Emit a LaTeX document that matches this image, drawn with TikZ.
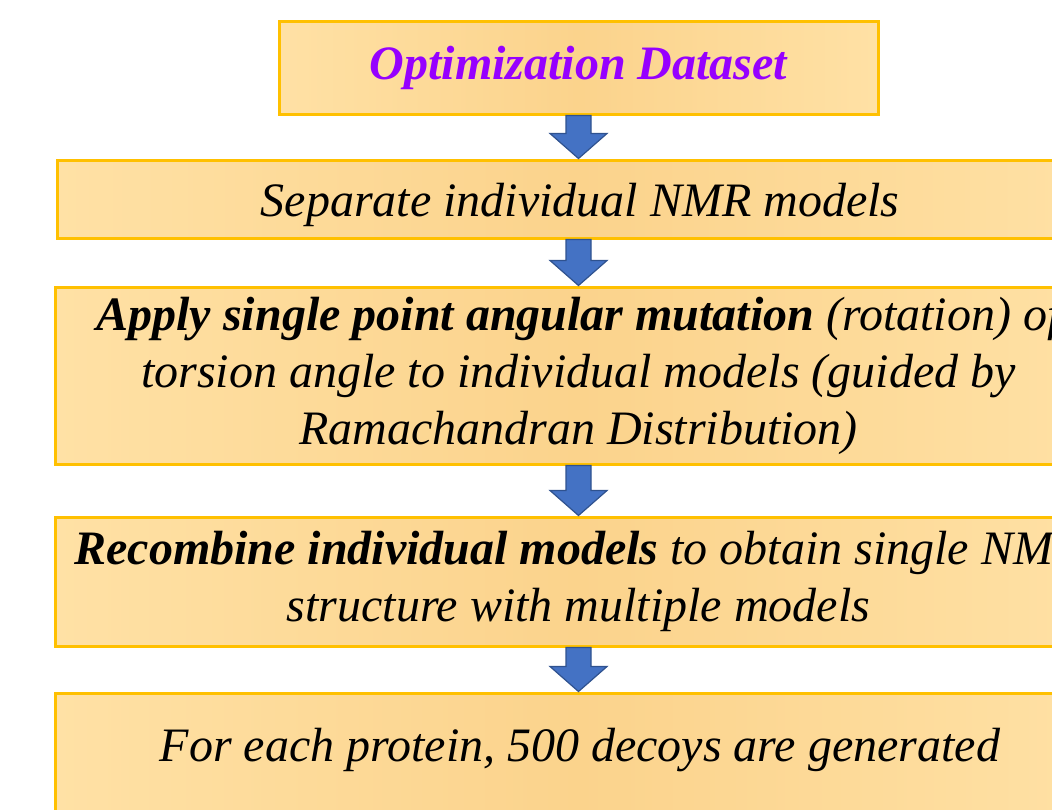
\documentclass[tikz,border=0pt]{standalone}
\usepackage{fontspec}
\setmainfont{Liberation Serif}[ItalicFont={Liberation Serif Italic},BoldFont={Liberation Serif Bold},BoldItalicFont={Liberation Serif Bold Italic}]
\usetikzlibrary{calc}
\definecolor{edgefill}{RGB}{255,225,165}
\definecolor{midfill}{RGB}{251,211,140}
\definecolor{boxline}{RGB}{255,192,0}
\definecolor{arrfill}{RGB}{68,114,196}
\definecolor{arrline}{RGB}{47,82,143}
\definecolor{titlepurple}{RGB}{150,0,255}
\tikzset{
  flowbox/.style={draw=boxline, line width=3pt, left color=edgefill, right color=edgefill, middle color=midfill,
    align=center, inner sep=0pt, font=\fontsize{48}{57}\selectfont\itshape},
  flowtext/.style={align=center, inner sep=0pt, font=\fontsize{48}{57}\selectfont\itshape},
  blockarrow/.style={fill=arrfill, draw=arrline, line width=1.2pt, line join=miter}
}
\newcommand{\flowarrow}[2]{%
  \path[blockarrow] ($(#1.south)+(-12.5,0)$) -- ($(#2.north)+(-12.5,-25)$) -- ($(#2.north)+(-28.5,-25)$)
   -- (#2.north) -- ($(#2.north)+(28.5,-25)$) -- ($(#2.north)+(12.5,-25)$) -- ($(#1.south)+(12.5,0)$) -- cycle;}
\begin{document}
\begin{tikzpicture}[x=1pt,y=-1pt]
\useasboundingbox (0,0) rectangle (1052,809);
\clip (0,0) rectangle (1052,809);
\node[flowbox, minimum width=599pt, minimum height=93pt] (b1) at (578.5,67.5)
  {\color{titlepurple}\bfseries Optimization Dataset};
\node[flowbox, minimum width=1043pt, minimum height=78pt] (b2) at (578.5,199) {};
\node[flowtext] (t2) at (580,205) {Separate individual NMR models};
\node[flowbox, minimum width=1047pt, minimum height=177pt] (b3) at (578.5,375.5)
  {\textbf{Apply single point angular mutation} (rotation) of\\ torsion angle to individual models (guided by\\ Ramachandran Distribution)};
\node[flowbox, minimum width=1047pt, minimum height=129pt] (b4) at (578.5,581.5)
  {\textbf{Recombine individual models} to obtain single NMR\\ structure with multiple models};
\node[flowbox, minimum width=1047pt, minimum height=140pt] (b5) at (578.5,763) {};
\node[flowtext] (t5) at (580,750) {For each protein, 500 decoys are generated};
\flowarrow{b1}{b2}
\flowarrow{b2}{b3}
\flowarrow{b3}{b4}
\flowarrow{b4}{b5}
\end{tikzpicture}
\end{document}
